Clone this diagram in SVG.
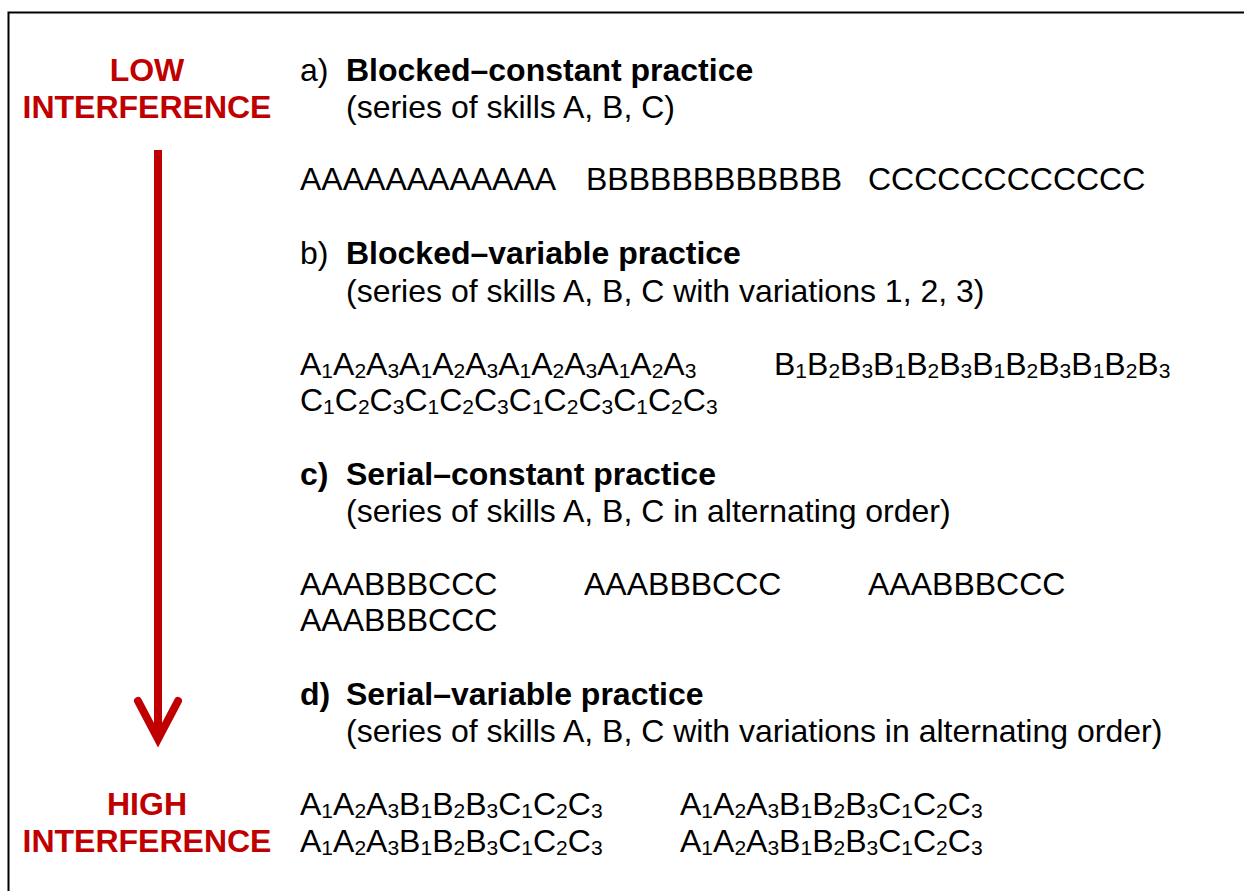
<svg xmlns="http://www.w3.org/2000/svg" width="1244" height="891" viewBox="0 0 1244 891">
<style>
text{font-family:"Liberation Sans",Arial,Helvetica,sans-serif;font-size:32px;fill:#000}
.red{fill:#C00000;font-weight:bold;text-anchor:middle}
.b{font-weight:bold}
.s{font-size:21px}
</style>
<rect x="0" y="0" width="1244" height="891" fill="#fff"/>
<rect x="8.5" y="12.5" width="1300" height="1000" fill="none" stroke="#000" stroke-width="2"/>
<g id="low-label">
<text class="red" x="147" y="81">LOW</text>
<text class="red" x="147" y="118">INTERFERENCE</text>
</g>
<g id="high-label">
<text class="red" x="147" y="815">HIGH</text>
<text class="red" x="147" y="852">INTERFERENCE</text>
</g>
<g id="connectors">
<line x1="158" y1="150" x2="158" y2="738" stroke="#C00000" stroke-width="8"/>
<polyline points="138,701 158,739 178,701" fill="none" stroke="#C00000" stroke-width="8" stroke-linecap="round" stroke-linejoin="miter"/>
</g>
<g id="section-a">
<text x="300" y="81">a)</text>
<text class="b" x="346" y="81">Blocked–constant practice</text>
<text x="346" y="118">(series of skills A, B, C)</text>
<text x="300" y="190">AAAAAAAAAAAA</text>
<text x="586" y="190">BBBBBBBBBBBB</text>
<text x="868" y="190">CCCCCCCCCCCC</text>
</g>
<g id="section-b">
<text x="300" y="264">b)</text>
<text class="b" x="346" y="264">Blocked–variable practice</text>
<text x="346" y="302">(series of skills A, B, C with variations 1, 2, 3)</text>
<text x="300" y="375">A<tspan class="s" dy="2.5">1</tspan><tspan dy="-2.5">A</tspan><tspan class="s" dy="2.5">2</tspan><tspan dy="-2.5">A</tspan><tspan class="s" dy="2.5">3</tspan><tspan dy="-2.5">A</tspan><tspan class="s" dy="2.5">1</tspan><tspan dy="-2.5">A</tspan><tspan class="s" dy="2.5">2</tspan><tspan dy="-2.5">A</tspan><tspan class="s" dy="2.5">3</tspan><tspan dy="-2.5">A</tspan><tspan class="s" dy="2.5">1</tspan><tspan dy="-2.5">A</tspan><tspan class="s" dy="2.5">2</tspan><tspan dy="-2.5">A</tspan><tspan class="s" dy="2.5">3</tspan><tspan dy="-2.5">A</tspan><tspan class="s" dy="2.5">1</tspan><tspan dy="-2.5">A</tspan><tspan class="s" dy="2.5">2</tspan><tspan dy="-2.5">A</tspan><tspan class="s" dy="2.5">3</tspan></text>
<text x="774" y="375">B<tspan class="s" dy="2.5">1</tspan><tspan dy="-2.5">B</tspan><tspan class="s" dy="2.5">2</tspan><tspan dy="-2.5">B</tspan><tspan class="s" dy="2.5">3</tspan><tspan dy="-2.5">B</tspan><tspan class="s" dy="2.5">1</tspan><tspan dy="-2.5">B</tspan><tspan class="s" dy="2.5">2</tspan><tspan dy="-2.5">B</tspan><tspan class="s" dy="2.5">3</tspan><tspan dy="-2.5">B</tspan><tspan class="s" dy="2.5">1</tspan><tspan dy="-2.5">B</tspan><tspan class="s" dy="2.5">2</tspan><tspan dy="-2.5">B</tspan><tspan class="s" dy="2.5">3</tspan><tspan dy="-2.5">B</tspan><tspan class="s" dy="2.5">1</tspan><tspan dy="-2.5">B</tspan><tspan class="s" dy="2.5">2</tspan><tspan dy="-2.5">B</tspan><tspan class="s" dy="2.5">3</tspan></text>
<text x="300" y="411">C<tspan class="s" dy="2.5">1</tspan><tspan dy="-2.5">C</tspan><tspan class="s" dy="2.5">2</tspan><tspan dy="-2.5">C</tspan><tspan class="s" dy="2.5">3</tspan><tspan dy="-2.5">C</tspan><tspan class="s" dy="2.5">1</tspan><tspan dy="-2.5">C</tspan><tspan class="s" dy="2.5">2</tspan><tspan dy="-2.5">C</tspan><tspan class="s" dy="2.5">3</tspan><tspan dy="-2.5">C</tspan><tspan class="s" dy="2.5">1</tspan><tspan dy="-2.5">C</tspan><tspan class="s" dy="2.5">2</tspan><tspan dy="-2.5">C</tspan><tspan class="s" dy="2.5">3</tspan><tspan dy="-2.5">C</tspan><tspan class="s" dy="2.5">1</tspan><tspan dy="-2.5">C</tspan><tspan class="s" dy="2.5">2</tspan><tspan dy="-2.5">C</tspan><tspan class="s" dy="2.5">3</tspan></text>
</g>
<g id="section-c">
<text class="b" x="300" y="485">c)</text>
<text class="b" x="346" y="485">Serial–constant practice</text>
<text x="346" y="522">(series of skills A, B, C in alternating order)</text>
<text x="300" y="595">AAABBBCCC</text>
<text x="584" y="595">AAABBBCCC</text>
<text x="868" y="595">AAABBBCCC</text>
<text x="300" y="631">AAABBBCCC</text>
</g>
<g id="section-d">
<text class="b" x="300" y="705">d)</text>
<text class="b" x="346" y="705">Serial–variable practice</text>
<text x="346" y="742">(series of skills A, B, C with variations in alternating order)</text>
<text x="300" y="815">A<tspan class="s" dy="2.5">1</tspan><tspan dy="-2.5">A</tspan><tspan class="s" dy="2.5">2</tspan><tspan dy="-2.5">A</tspan><tspan class="s" dy="2.5">3</tspan><tspan dy="-2.5">B</tspan><tspan class="s" dy="2.5">1</tspan><tspan dy="-2.5">B</tspan><tspan class="s" dy="2.5">2</tspan><tspan dy="-2.5">B</tspan><tspan class="s" dy="2.5">3</tspan><tspan dy="-2.5">C</tspan><tspan class="s" dy="2.5">1</tspan><tspan dy="-2.5">C</tspan><tspan class="s" dy="2.5">2</tspan><tspan dy="-2.5">C</tspan><tspan class="s" dy="2.5">3</tspan></text>
<text x="680" y="815">A<tspan class="s" dy="2.5">1</tspan><tspan dy="-2.5">A</tspan><tspan class="s" dy="2.5">2</tspan><tspan dy="-2.5">A</tspan><tspan class="s" dy="2.5">3</tspan><tspan dy="-2.5">B</tspan><tspan class="s" dy="2.5">1</tspan><tspan dy="-2.5">B</tspan><tspan class="s" dy="2.5">2</tspan><tspan dy="-2.5">B</tspan><tspan class="s" dy="2.5">3</tspan><tspan dy="-2.5">C</tspan><tspan class="s" dy="2.5">1</tspan><tspan dy="-2.5">C</tspan><tspan class="s" dy="2.5">2</tspan><tspan dy="-2.5">C</tspan><tspan class="s" dy="2.5">3</tspan></text>
<text x="300" y="852">A<tspan class="s" dy="2.5">1</tspan><tspan dy="-2.5">A</tspan><tspan class="s" dy="2.5">2</tspan><tspan dy="-2.5">A</tspan><tspan class="s" dy="2.5">3</tspan><tspan dy="-2.5">B</tspan><tspan class="s" dy="2.5">1</tspan><tspan dy="-2.5">B</tspan><tspan class="s" dy="2.5">2</tspan><tspan dy="-2.5">B</tspan><tspan class="s" dy="2.5">3</tspan><tspan dy="-2.5">C</tspan><tspan class="s" dy="2.5">1</tspan><tspan dy="-2.5">C</tspan><tspan class="s" dy="2.5">2</tspan><tspan dy="-2.5">C</tspan><tspan class="s" dy="2.5">3</tspan></text>
<text x="680" y="852">A<tspan class="s" dy="2.5">1</tspan><tspan dy="-2.5">A</tspan><tspan class="s" dy="2.5">2</tspan><tspan dy="-2.5">A</tspan><tspan class="s" dy="2.5">3</tspan><tspan dy="-2.5">B</tspan><tspan class="s" dy="2.5">1</tspan><tspan dy="-2.5">B</tspan><tspan class="s" dy="2.5">2</tspan><tspan dy="-2.5">B</tspan><tspan class="s" dy="2.5">3</tspan><tspan dy="-2.5">C</tspan><tspan class="s" dy="2.5">1</tspan><tspan dy="-2.5">C</tspan><tspan class="s" dy="2.5">2</tspan><tspan dy="-2.5">C</tspan><tspan class="s" dy="2.5">3</tspan></text>
</g>
</svg>
